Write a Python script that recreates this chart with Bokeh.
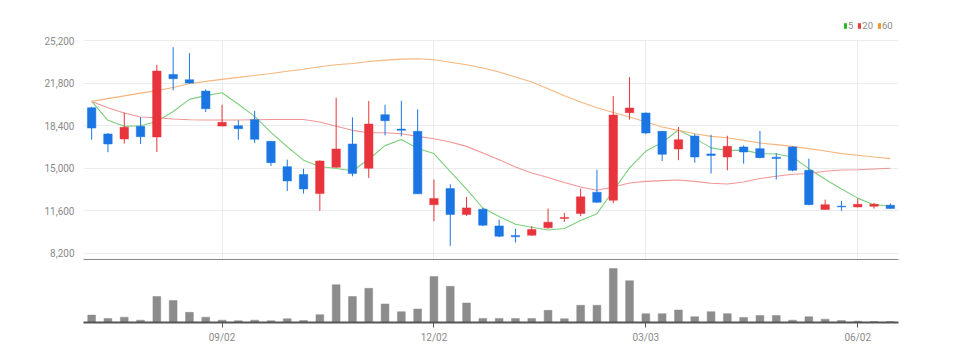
from bokeh.plotting import figure
from bokeh.layouts import column
from bokeh.models import (ColumnDataSource, FixedTicker, NumeralTickFormatter, Range1d,
                          Legend, LegendItem, BoxAnnotation)
from bokeh.embed import file_html
from bokeh.resources import INLINE

# ---------------- data ----------------
opens = [19830, 17740, 17340, 18350, 17500, 22490, 22070, 21160, 18370, 18400,
         18880, 17150, 15130, 14500, 12980, 15080, 16940, 15000, 19280, 18130,
         17950, 12100, 13380, 11310, 11730, 10400, 9640, 9660, 10250, 11000,
         11390, 13090, 12450, 19440, 19410, 17950, 16540, 17580, 16150, 15900,
         16700, 16570, 15880, 16700, 14840, 11710, 11980, 11920, 11970, 12050]
highs = [19900, 17820, 19440, 19090, 23260, 24670, 24190, 21300, 20070, 18830,
         19570, 17180, 15690, 14970, 15640, 20630, 19060, 20370, 20070, 20390,
         19700, 14100, 13730, 12720, 11840, 10910, 10190, 10380, 11790, 11440,
         13380, 14890, 20760, 22280, 19450, 17980, 18290, 17760, 17680, 17600,
         16830, 17980, 16220, 16750, 15770, 12500, 12400, 12580, 12240, 12190]
lows = [17280, 16280, 16970, 16940, 16300, 21220, 21750, 19490, 18350, 17280,
        17020, 15190, 13190, 12980, 11600, 15050, 14360, 14230, 17630, 17550,
        12950, 10780, 8810, 11200, 10380, 9500, 9080, 9610, 10170, 10720,
        11180, 12250, 12210, 18880, 17710, 15580, 15640, 15450, 14580, 14840,
        15370, 15800, 14100, 14760, 12050, 11700, 11600, 11870, 11790, 11780]
closes = [18210, 16940, 18270, 17520, 22760, 22150, 21800, 19760, 18670, 18160,
          17310, 15450, 13990, 13350, 15580, 16540, 14580, 18530, 18800, 18030,
          12960, 12580, 11310, 11840, 10460, 9580, 9530, 10110, 10700, 11080,
          12720, 12290, 19250, 19810, 17820, 16120, 17280, 15900, 16030, 16750,
          16300, 15850, 15780, 14840, 12100, 12100, 11920, 12130, 12130, 11790]
volumes = [73, 40, 53, 23, 257, 217, 100, 53, 23, 17,
           23, 17, 37, 20, 77, 373, 257, 337, 183, 107,
           133, 453, 357, 193, 40, 40, 40, 40, 120, 37,
           170, 170, 533, 413, 87, 87, 123, 57, 107, 87,
           50, 70, 70, 23, 57, 33, 20, 13, 10, 10]
ma5 = [20340, 18830, 18350, 18400, 18740, 19530, 20500, 20800, 21030, 20110,
       19140, 17870, 16720, 15650, 15140, 14980, 14810, 15720, 16810, 17300,
       16580, 16180, 14740, 13340, 11830, 11150, 10540, 10300, 10080, 10200,
       10830, 11380, 13210, 15030, 16380, 17060, 18060, 17390, 16630, 16420,
       16450, 16170, 16140, 15900, 14970, 14130, 13350, 12620, 12080, 12010]
ma20 = [20340, 19830, 19410, 19090, 19040, 18930, 18880, 18860, 18850, 18860,
        18880, 18900, 18900, 18900, 18690, 18350, 18030, 17840, 17840, 17760,
        17550, 17360, 17100, 16750, 16220, 15690, 15110, 14630, 14260, 13860,
        13510, 13250, 13510, 13830, 13960, 14020, 14070, 13960, 13810, 13750,
        13910, 14180, 14360, 14520, 14580, 14760, 14870, 14890, 14950, 15000]
ma60 = [20340, 20560, 20780, 21000, 21200, 21450, 21750, 21940, 22100, 22260,
        22410, 22570, 22750, 22910, 23100, 23260, 23360, 23520, 23630, 23710,
        23740, 23660, 23470, 23260, 23000, 22680, 22280, 21880, 21350, 20790,
        20290, 19830, 19460, 19090, 18690, 18290, 18030, 17760, 17550, 17440,
        17230, 17020, 16890, 16750, 16570, 16380, 16170, 16040, 15900, 15770]
price_ticks = [8200, 11600, 15000, 18400, 21800, 25200]
date_tick_pos = [8, 21, 34, 47]
date_tick_labels = ["09/02", "12/02", "03/03", "06/02"]
ma_labels = ["5", "20", "60"]

# ---------------- styles ----------------
UP = "#e8343c"
DOWN = "#1b76e4"
MA_LINE_COLORS = ["#7ccf7c", "#f09696", "#f5b67e"]
MA_KEY_COLORS = ["#2db52d", "#e63c3c", "#f0962f"]
FONT = "Roboto"
LABEL_COLOR = "#8a8a8a"

idx = list(range(len(closes)))
src = ColumnDataSource(dict(
    x=idx,
    o=opens, h=highs, l=lows, c=closes,
    top=[max(a, b) for a, b in zip(opens, closes)],
    bot=[min(a, b) for a, b in zip(opens, closes)],
    col=[UP if c >= o else DOWN for o, c in zip(opens, closes)],
    vol=volumes, ma5=ma5, ma20=ma20, ma60=ma60,
))

xr = Range1d(-0.5, 49.5)
price_top = price_ticks[-1]
# frame extends above the top tick so that the legend sits inside the frame
p1 = figure(width=948, height=260, x_range=xr, y_range=Range1d(7641, 27435),
            output_backend="svg", toolbar_location=None,
            min_border_left=83, min_border_right=50, min_border_top=12,
            min_border_bottom=0)
p1.outline_line_color = None
p1.background_fill_color = "white"

# axes / grid
p1.yaxis.ticker = FixedTicker(ticks=price_ticks)
p1.yaxis.formatter = NumeralTickFormatter(format="0,0")
p1.yaxis.axis_line_color = None
p1.yaxis.major_tick_line_color = None
p1.yaxis.minor_tick_line_color = None
p1.yaxis.major_label_text_font = FONT
p1.yaxis.major_label_text_font_size = "10px"
p1.yaxis.major_label_text_color = LABEL_COLOR
p1.yaxis.major_label_standoff = 3

p1.xaxis.ticker = FixedTicker(ticks=[])
p1.xaxis.axis_line_color = "#111111"
p1.xaxis.axis_line_width = 2
p1.xaxis.major_tick_line_color = None
p1.xaxis.minor_tick_line_color = None
p1.xaxis.major_label_standoff = 0

p1.xgrid.ticker = FixedTicker(ticks=date_tick_pos)
p1.xgrid.grid_line_color = "#ececec"
p1.ygrid.grid_line_color = "#ececec"

# white mask hiding the vertical grid above the top price tick
p1.add_layout(BoxAnnotation(bottom=price_top + 60, fill_color="white", fill_alpha=1,
                            line_color=None, level="underlay"))

# moving averages
for key, colr in zip(["ma5", "ma20", "ma60"], MA_LINE_COLORS):
    p1.line("x", key, source=src, line_color=colr, line_width=1.1)

# candles
p1.segment(x0="x", y0="h", x1="x", y1="l", source=src, line_color="col", line_width=1)
p1.vbar(x="x", top="top", bottom="bot", width=0.52, source=src,
        fill_color="col", line_color="col", line_width=0.5)

# legend (key swatches: NaN quads, nothing drawn in the plot itself)
nan = float("nan")
leg_items = []
for lab, colr in zip(ma_labels, MA_KEY_COLORS):
    r = p1.quad(left=[nan], right=[nan], top=[nan], bottom=[nan],
                fill_color=colr, line_color=None)
    leg_items.append(LegendItem(label=lab, renderers=[r], index=0))
legend = Legend(items=leg_items, orientation="horizontal", location=(760, 229),
                border_line_color=None, background_fill_alpha=0, padding=0, margin=0,
                spacing=4, label_standoff=1, glyph_width=4, glyph_height=7,
                label_width=0, label_height=10,
                label_text_font=FONT, label_text_font_size="9.5px",
                label_text_color=LABEL_COLOR)
p1.add_layout(legend, "center")

# ---------------- volume ----------------
p2 = figure(width=948, height=85, x_range=xr, y_range=Range1d(0, 612),
            output_backend="svg", toolbar_location=None,
            min_border_left=83, min_border_right=50, min_border_top=0,
            min_border_bottom=0)
p2.outline_line_color = None
p2.vbar(x="x", top="vol", bottom=0, width=0.48, source=src,
        fill_color="#8c8c8c", line_color="#8c8c8c", line_width=0.5)
p2.yaxis.visible = False
p2.xgrid.grid_line_color = None
p2.ygrid.grid_line_color = None
p2.xaxis.ticker = FixedTicker(ticks=date_tick_pos)
p2.xaxis.major_label_overrides = {pos: lab for pos, lab in zip(date_tick_pos, date_tick_labels)}
p2.xaxis.axis_line_color = "#555555"
p2.xaxis.axis_line_width = 2
p2.xaxis.major_tick_line_color = "#555555"
p2.xaxis.major_tick_in = 0
p2.xaxis.major_tick_out = 5
p2.xaxis.minor_tick_line_color = None
p2.xaxis.major_label_text_font = FONT
p2.xaxis.major_label_text_font_size = "10px"
p2.xaxis.major_label_text_color = LABEL_COLOR
p2.xaxis.major_label_standoff = 4

layout = column(p1, p2, spacing=0)
open("out.html", "w").write(file_html(layout, INLINE))
